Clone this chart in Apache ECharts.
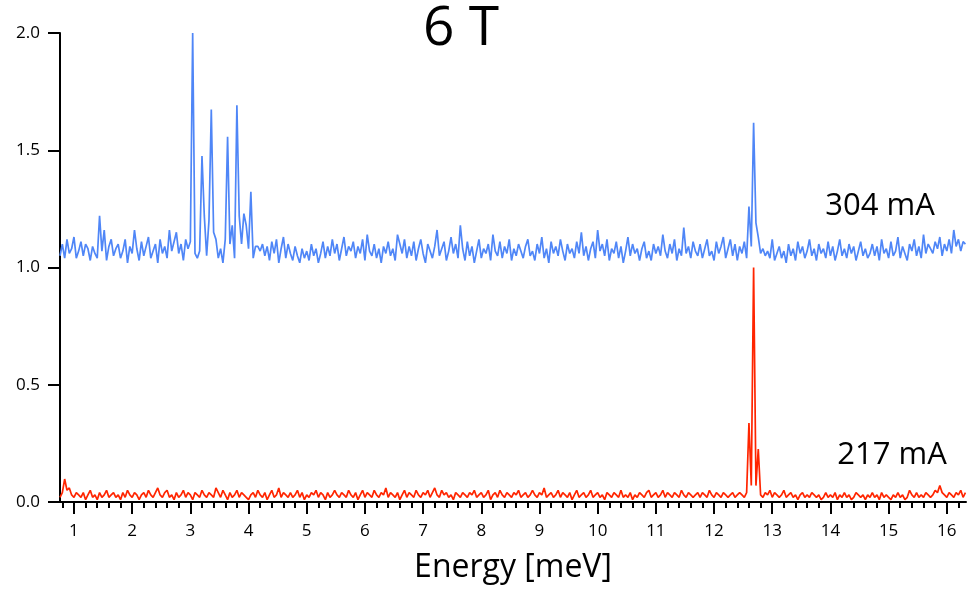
<!DOCTYPE html>
<html>
<head>
<meta charset="utf-8">
<script src="https://cdn.jsdelivr.net/npm/echarts@6/dist/echarts.min.js"></script>
<style>html,body{margin:0;padding:0;background:#fff}#c{width:968px;height:592px}</style>
</head>
<body>
<div id="c"></div>
<script>
// Energy sampling (meV)
const energyStart = 0.76;
const energyStep = 0.04;
const majorTicks = [1,2,3,4,5,6,7,8,9,10,11,12,13,14,15,16];
const yTicks = [0.0,0.5,1.0,1.5,2.0];
const titleText = '6 T';
const blueLabel = '304 mA';
const redLabel = '217 mA';
const xName = 'Energy [meV]';

// 304 mA trace (offset by +1)
const blue = [
1.05,1.10,1.04,1.12,1.06,1.08,1.13,1.04,1.07,1.11,1.05,1.10,1.08,1.03,1.09,1.06,1.04,1.22,1.07,1.16,1.03,1.09,1.12,1.05,1.08,
1.10,1.04,1.07,1.12,1.02,1.09,1.06,1.16,1.08,1.03,1.11,1.05,1.09,1.13,1.04,1.07,1.10,1.02,1.12,1.06,1.09,1.04,1.16,1.07,1.11,
1.15,1.06,1.10,1.03,1.12,1.08,1.11,2.00,1.06,1.04,1.07,1.475,1.22,1.05,1.20,1.674,1.15,1.12,1.04,1.08,1.02,1.12,1.557,1.10,1.18,
1.04,1.692,1.22,1.10,1.23,1.18,1.08,1.323,1.04,1.09,1.09,1.07,1.10,1.05,1.09,1.03,1.11,1.06,1.12,1.02,1.08,1.13,1.04,1.10,1.06,
1.03,1.09,1.05,1.02,1.08,1.04,1.07,1.03,1.10,1.05,1.08,1.02,1.06,1.11,1.04,1.09,1.05,1.12,1.06,1.10,1.03,1.08,1.13,1.05,1.09,
1.07,1.11,1.04,1.09,1.06,1.12,1.03,1.14,1.07,1.05,1.10,1.04,1.08,1.02,1.09,1.06,1.11,1.05,1.08,1.03,1.14,1.10,1.06,1.12,1.04,
1.09,1.05,1.11,1.03,1.08,1.12,1.06,1.02,1.10,1.07,1.04,1.09,1.16,1.05,1.08,1.11,1.03,1.07,1.13,1.06,1.10,1.04,1.18,1.08,1.03,
1.11,1.05,1.09,1.02,1.07,1.12,1.04,1.08,1.06,1.10,1.03,1.14,1.07,1.05,1.11,1.04,1.09,1.06,1.12,1.03,1.08,1.05,1.10,1.07,1.04,
1.09,1.12,1.05,1.07,1.03,1.10,1.06,1.13,1.04,1.08,1.02,1.11,1.06,1.09,1.05,1.12,1.07,1.03,1.10,1.06,1.08,1.04,1.11,1.06,1.15,
1.05,1.09,1.03,1.08,1.11,1.04,1.16,1.07,1.10,1.05,1.12,1.03,1.08,1.06,1.11,1.04,1.09,1.02,1.07,1.13,1.05,1.10,1.06,1.08,1.03,
1.08,1.11,1.04,1.07,1.03,1.10,1.06,1.09,1.05,1.14,1.07,1.04,1.10,1.06,1.12,1.03,1.08,1.05,1.17,1.06,1.09,1.04,1.11,1.07,1.05,
1.10,1.04,1.08,1.12,1.05,1.07,1.03,1.11,1.06,1.09,1.13,1.04,1.08,1.12,1.05,1.10,1.03,1.09,1.06,1.11,1.04,1.26,1.09,1.617,1.19,
1.13,1.06,1.08,1.05,1.07,1.04,1.12,1.03,1.06,1.09,1.04,1.07,1.02,1.10,1.05,1.08,1.03,1.11,1.06,1.09,1.04,1.07,1.12,1.05,1.08,
1.03,1.10,1.06,1.08,1.04,1.11,1.05,1.09,1.03,1.07,1.12,1.05,1.08,1.04,1.10,1.06,1.09,1.03,1.07,1.11,1.05,1.08,1.04,1.06,1.10,
1.05,1.09,1.03,1.12,1.06,1.08,1.04,1.11,1.05,1.07,1.13,1.04,1.09,1.06,1.03,1.10,1.07,1.12,1.05,1.09,1.04,1.14,1.06,1.10,1.08,
1.06,1.11,1.08,1.13,1.05,1.10,1.07,1.12,1.06,1.16,1.09,1.12,1.07,1.11,1.10
];

// 217 mA trace
const red = [
0.02,0.04,0.098,0.05,0.06,0.03,0.02,0.04,0.03,0.02,0.04,0.01,0.03,0.05,0.02,0.03,0.01,0.04,0.02,0.03,0.05,0.02,0.03,0.04,0.02,
0.03,0.01,0.04,0.02,0.05,0.03,0.02,0.04,0.03,0.01,0.03,0.04,0.02,0.05,0.03,0.02,0.04,0.06,0.03,0.02,0.04,0.05,0.02,0.03,0.01,
0.04,0.02,0.03,0.05,0.02,0.04,0.03,0.01,0.04,0.03,0.02,0.05,0.03,0.02,0.04,0.03,0.02,0.06,0.04,0.02,0.05,0.03,0.01,0.04,0.02,
0.03,0.05,0.02,0.04,0.03,0.02,0.01,0.03,0.04,0.02,0.05,0.03,0.02,0.04,0.01,0.03,0.05,0.02,0.03,0.06,0.02,0.04,0.03,0.02,0.04,
0.02,0.03,0.05,0.02,0.04,0.01,0.03,0.02,0.04,0.03,0.05,0.02,0.04,0.03,0.01,0.04,0.02,0.03,0.05,0.03,0.02,0.04,0.03,0.02,0.05,
0.03,0.02,0.04,0.01,0.03,0.05,0.02,0.04,0.03,0.02,0.05,0.03,0.02,0.04,0.03,0.06,0.02,0.04,0.03,0.02,0.04,0.01,0.03,0.05,0.02,
0.04,0.03,0.02,0.05,0.03,0.02,0.04,0.03,0.05,0.02,0.04,0.06,0.03,0.02,0.05,0.03,0.04,0.02,0.03,0.01,0.04,0.03,0.02,0.04,0.03,
0.02,0.04,0.03,0.05,0.02,0.03,0.04,0.02,0.03,0.05,0.01,0.03,0.04,0.02,0.05,0.03,0.02,0.04,0.03,0.02,0.04,0.03,0.05,0.02,0.03,
0.04,0.02,0.03,0.05,0.03,0.02,0.04,0.03,0.06,0.02,0.03,0.04,0.02,0.03,0.05,0.02,0.04,0.03,0.02,0.04,0.01,0.03,0.05,0.02,0.03,
0.04,0.02,0.03,0.05,0.02,0.03,0.04,0.02,0.03,0.01,0.04,0.03,0.02,0.04,0.03,0.02,0.05,0.02,0.03,0.02,0.04,0.01,0.03,0.02,0.04,
0.03,0.02,0.04,0.05,0.02,0.03,0.04,0.02,0.03,0.05,0.02,0.04,0.03,0.02,0.04,0.03,0.02,0.05,0.03,0.02,0.04,0.03,0.02,0.03,0.04,
0.02,0.04,0.03,0.02,0.05,0.03,0.02,0.04,0.03,0.02,0.04,0.03,0.02,0.03,0.04,0.02,0.03,0.04,0.03,0.02,0.04,0.337,0.07,1.0,0.07,
0.226,0.03,0.02,0.04,0.03,0.05,0.02,0.04,0.03,0.02,0.03,0.05,0.02,0.03,0.04,0.02,0.03,0.01,0.03,0.04,0.02,0.03,0.02,0.04,0.03,
0.02,0.03,0.01,0.02,0.04,0.02,0.03,0.02,0.04,0.01,0.03,0.02,0.04,0.02,0.03,0.01,0.02,0.04,0.03,0.02,0.03,0.01,0.03,0.02,0.04,
0.02,0.03,0.01,0.04,0.02,0.03,0.02,0.01,0.03,0.02,0.04,0.02,0.03,0.01,0.02,0.05,0.03,0.02,0.04,0.02,0.03,0.02,0.04,0.03,0.02,
0.03,0.05,0.04,0.07,0.04,0.03,0.02,0.04,0.03,0.02,0.04,0.03,0.05,0.02,0.04
];

const toPairs = arr => arr.map((v, i) => [+(energyStart + i * energyStep).toFixed(2), v]);
const minorTicks = [];
for (let k = 0.8; k < 16.33; k += 0.2) {
  const r = Math.round(k * 10) / 10;
  if (Math.abs(r - Math.round(r)) > 1e-6) minorTicks.push(r);
}

const FONT = '"Open Sans", "Noto Sans", sans-serif';
const chart = echarts.init(document.getElementById('c'), null, {renderer: 'canvas'});
const xCommon = {type: 'value', min: 0.76, max: 16.33, gridIndex: 0, position: 'bottom', splitLine: {show: false}};
chart.setOption({
  animation: false,
  backgroundColor: '#fff',
  grid: {left: 60, right: 2, top: 33, bottom: 90, containLabel: false},
  xAxis: [
    Object.assign({}, xCommon, {
      axisLine: {show: true, onZero: false, lineStyle: {color: '#000', width: 2}},
      axisTick: {show: true, inside: false, length: 12, customValues: majorTicks, lineStyle: {color: '#000', width: 2}},
      axisLabel: {show: true, customValues: majorTicks, margin: 21, color: '#000', fontSize: 17, fontFamily: FONT},
      name: xName, nameLocation: 'middle', nameGap: 50,
      nameTextStyle: {color: '#000', fontSize: 32, fontFamily: FONT}
    }),
    Object.assign({}, xCommon, {
      axisLine: {show: false, onZero: false},
      axisTick: {show: true, inside: false, length: 6, customValues: minorTicks, lineStyle: {color: '#000', width: 2}},
      axisLabel: {show: false}
    })
  ],
  yAxis: {
    type: 'value', min: 0, max: 2, interval: 0.5,
    splitLine: {show: false},
    axisLine: {show: true, onZero: false, lineStyle: {color: '#000', width: 2}},
    axisTick: {show: true, inside: false, length: 12, lineStyle: {color: '#000', width: 2}},
    axisLabel: {margin: 20, color: '#000', fontSize: 17, fontFamily: FONT,
      formatter: v => v.toFixed(1)}
  },
  series: [
    {type: 'line', xAxisIndex: 0, data: toPairs(blue), showSymbol: false, symbol: 'none',
     lineStyle: {color: '#4f86f7', width: 1.7}, itemStyle: {color: '#4f86f7'}},
    {type: 'line', xAxisIndex: 0, data: toPairs(red), showSymbol: false, symbol: 'none',
     lineStyle: {color: '#ff2500', width: 1.7}, itemStyle: {color: '#ff2500'}}
  ],
  graphic: [
    {type: 'text', x: 461, y: 29, style: {text: titleText, fill: '#000', font: '55px ' + FONT, textAlign: 'center', textVerticalAlign: 'middle'}},
    {type: 'text', x: 880, y: 206, style: {text: blueLabel, fill: '#000', font: '31px ' + FONT, textAlign: 'center', textVerticalAlign: 'middle'}},
    {type: 'text', x: 892, y: 455, style: {text: redLabel, fill: '#000', font: '31px ' + FONT, textAlign: 'center', textVerticalAlign: 'middle'}}
  ]
});
</script>
</body>
</html>
